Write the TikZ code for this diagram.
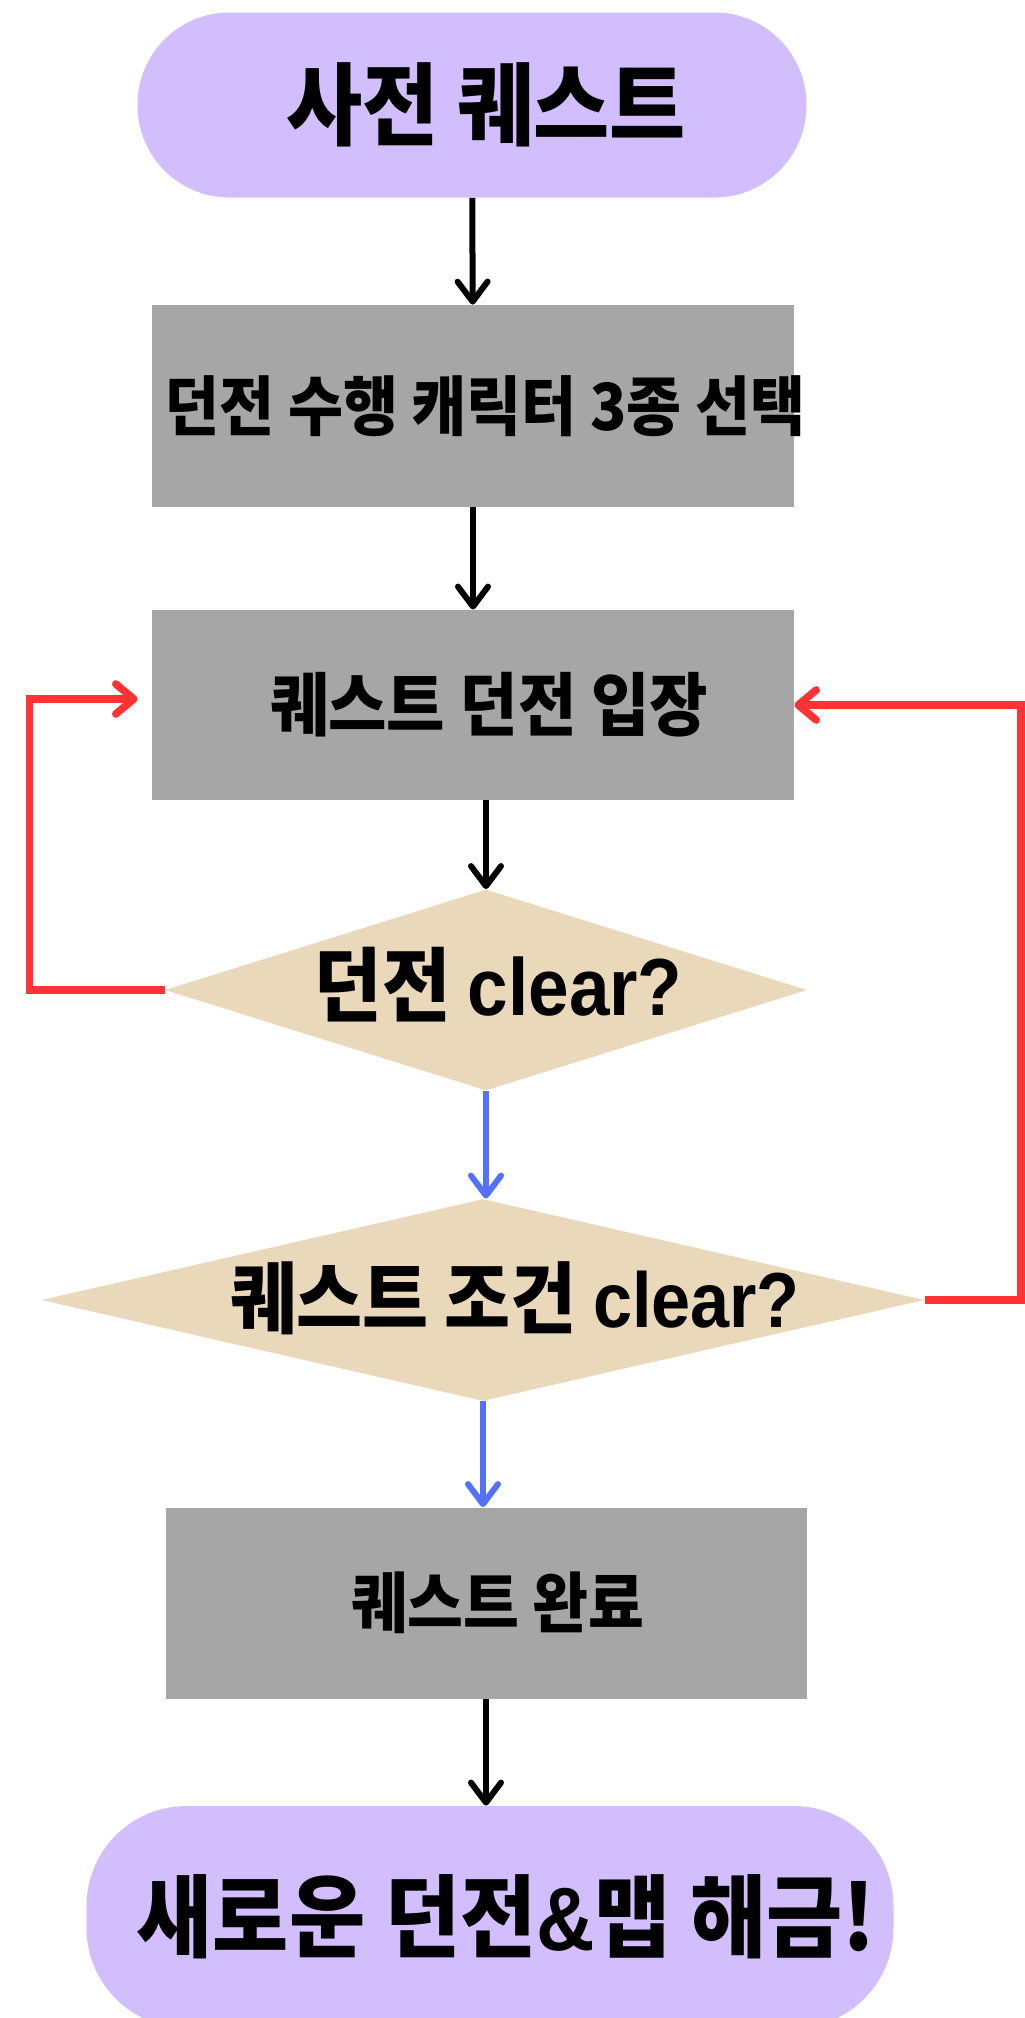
\documentclass[tikz,border=0pt]{standalone}
\usepackage{fontspec}
\usetikzlibrary{arrows.meta,shapes.geometric}
\newfontfamily\krfont{Noto Sans CJK KR Black}[FakeStretch=0.92]
\newfontfamily\latfont{Liberation Sans}[FakeStretch=0.9]
\newcommand{\txtsize}[1]{\fontsize{#1}{1.2\dimexpr#1\relax}\selectfont}
% push the words a bit right, without widening the node
\newcommand{\nudge}[2]{\hspace*{#1}#2\hspace*{-#1}}

\definecolor{startlav}{RGB}{210,190,252}
\definecolor{stepgray}{RGB}{166,166,166}
\definecolor{asktan}{RGB}{234,216,187}
\definecolor{loopred}{RGB}{255,51,51}
\definecolor{yesblue}{RGB}{84,112,255}

\begin{document}
\begin{tikzpicture}[x=0.5pt,y=0.5pt,yscale=-1,
  terminal/.style={rectangle,fill=startlav,inner sep=0pt,font=\krfont},
  stepbox/.style={rectangle,fill=stepgray,inner sep=0pt,font=\krfont},
  askbox/.style={diamond,fill=asktan,inner sep=0pt,font=\krfont,text height=0.84em,text depth=-0.07em},
  flow/.style={line width=3pt,-{Straight Barb[length=10pt,width=15pt,round]}},
  yesflow/.style={flow,color=yesblue},
  loopback/.style={line width=3.8pt,color=loopred,-{Straight Barb[length=9pt,width=15pt,round]}}]
\useasboundingbox (0,0) rectangle (1024,2018);

% start / end
\node [terminal,minimum width=334.5pt,minimum height=92.5pt,rounded corners=46pt] (start) at (472,105) {\txtsize{45pt}\nudge{7pt}{사전 퀘스트}};
\node [terminal,minimum width=403.5pt,minimum height=111pt,rounded corners=50pt] (unlock) at (490,1917) {\txtsize{45pt}\nudge{8pt}{새로운 던전{\latfont\bfseries\&}맵 해금!}};

% steps
\node [stepbox,minimum width=321pt,minimum height=101pt] (pick) at (473,406) {\txtsize{32.5pt}\nudge{6pt}{던전 수행 캐릭터 3종 선택}};
\node [stepbox,minimum width=321pt,minimum height=95pt] (enter) at (473,705) {\txtsize{34.5pt}\nudge{8pt}{퀘스트 던전 입장}};
\node [stepbox,minimum width=320.5pt,minimum height=95.5pt] (done) at (486,1603) {\txtsize{33pt}\nudge{6pt}{퀘스트 완료}};

% checks
\node [askbox,shape aspect=3.2,minimum width=321pt,minimum height=100.5pt] (dclear) at (486,990) {\txtsize{40.5pt}\raisebox{-8.5pt}{\nudge{6pt}{던전 {\latfont\bfseries clear?}}}};
\node [askbox,shape aspect=4.37,minimum width=441.5pt,minimum height=101pt] (qclear) at (483,1300) {\txtsize{39pt}\raisebox{-9.5pt}{\nudge{16pt}{퀘스트 조건 {\latfont\bfseries clear?}}}};

% main line
\draw [flow] (start) -- (pick);
\draw [flow] (pick) -- (enter);
\draw [flow] (enter.south -| dclear.north) -- (dclear.north);
\draw [yesflow] (dclear.south) -- (dclear.south |- qclear.north);
\draw [yesflow] (qclear.south) -- (qclear.south |- done.north);
\draw [flow] (done.south) -- (done.south |- unlock.north);

% retry loops
\draw [loopback] (dclear.west) -- ++(-135,0) |- ([xshift=-7pt,yshift=-3pt]enter.west);
\draw [loopback] (qclear.east) -- ++(96,0) |- (enter.east);

\end{tikzpicture}
\end{document}
